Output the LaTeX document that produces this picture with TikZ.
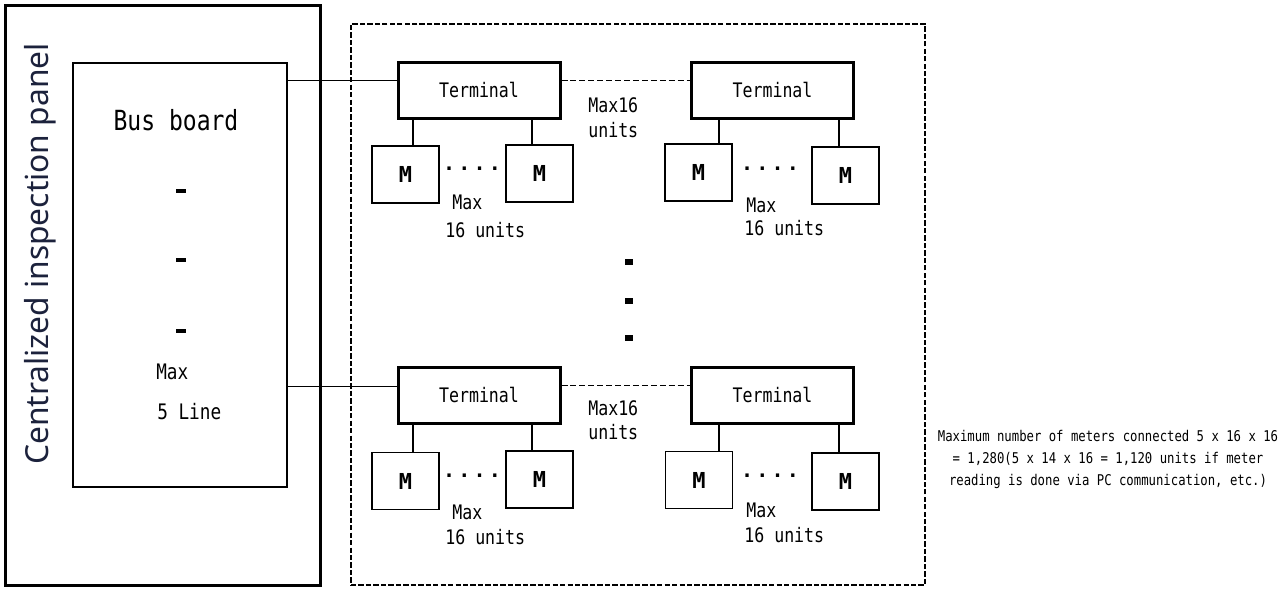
\documentclass[tikz,border=0pt]{standalone}
\usepackage{fontspec}
\usetikzlibrary{calc}
\newfontfamily\gothic[FakeStretch=0.83]{DejaVu Sans Mono}
\newfontfamily\gothicb{DejaVu Sans Mono}
\newfontfamily\meiryo{Noto Sans}
\definecolor{navy}{RGB}{28,34,60}
\newcommand\fourdots{.\hspace{2.4pt}.\hspace{2.4pt}.\hspace{2.4pt}.}
\begin{document}
\begin{tikzpicture}[x=0.75pt,y=-0.75pt,
  box/.style 2 args={draw, rectangle, inner sep=0pt, minimum width=#1*0.75pt, minimum height=#2*0.75pt},
  panelbox/.style={box={315}{580}, line width=2.25pt},
  busbox/.style={box={214}{424}, line width=1pt},
  termbox/.style={box={162}{56}, line width=2.25pt, font=\gothic\fontsize{15}{18}\selectfont},
  meter/.style={box={67}{57}, line width=1.2pt, font=\gothicb\bfseries\fontsize{16.5}{18}\selectfont},
  region/.style={box={574}{561}, line width=1pt, dash pattern=on 4pt off 1.6pt},
  lbl/.style={font=\gothic\fontsize{15}{18}\selectfont, inner sep=0pt, anchor=west},
  dotsrow/.style={font=\gothicb\bfseries\fontsize{15}{18}\selectfont, inner sep=0pt},
  bar/.style={fill=black, inner sep=0pt, minimum width=7.5pt, minimum height=3.4pt},
  vbar/.style={fill=black, inner sep=0pt, minimum width=6pt, minimum height=3.8pt},
  conn/.style={line width=1pt},
  dashconn/.style={line width=1pt, dash pattern=on 4.5pt off 2.2pt}]
\useasboundingbox (0,0) rectangle (1284,590);

% left panel
\node[panelbox] (panel) at (162.5,295) {};
\node[busbox] (bus) at (180,275) {};
\node[font=\meiryo\fontsize{23.8}{28}\selectfont, text=navy, rotate=90, anchor=base, inner sep=0pt] (ptitle) at (48,254) {Centralized inspection panel};
\node[font=\gothic\fontsize{20.8}{24}\selectfont, inner sep=0pt] (bustitle) at (176,120) {Bus board};
\node[bar] (b1) at (181,191) {};
\node[bar] (b2) at (181,260) {};
\node[bar] (b3) at (181,331) {};
\node[lbl, font=\gothic\fontsize{16}{18}\selectfont] (bmax) at (156,372) {Max};
\node[lbl, font=\gothic\fontsize{16}{18}\selectfont] (bline) at (157,412) {5 Line};

% dashed region
\node[region] (reg) at (638,304.5) {};

% terminals
\node[termbox] (T1) at (479,90) {Terminal};
\node[termbox] (T2) at (772.5,90) {Terminal};
\node[termbox] (T3) at (479,395) {Terminal};
\node[termbox] (T4) at (772.5,395) {Terminal};

% meters
\node[meter] (M1) at (405.5,174.5) {M};
\node[meter] (M2) at (539.5,173.5) {M};
\node[meter] (M3) at (698.5,172.5) {M};
\node[meter] (M4) at (845.5,175.5) {M};
\node[meter] (M5) at (405.5,481) {M};
\node[meter] (M6) at (539.5,479.5) {M};
\node[meter] (M7) at (699,480) {M};
\node[meter] (M8) at (845.5,481.5) {M};

% bus to terminals
\coordinate (t1in) at ($(T1.north west)!0.34!(T1.south west)$);
\coordinate (t3in) at ($(T3.north west)!0.36!(T3.south west)$);
\draw[conn] (t1in -| bus.east) -- (t1in);
\draw[conn] (t3in -| bus.east) -- (t3in);

% terminal to terminal (dashed)
\coordinate (t1out) at ($(T1.north east)!0.34!(T1.south east)$);
\coordinate (t3out) at ($(T3.north east)!0.34!(T3.south east)$);
\draw[dashconn] (t1out) -- (t1out -| T2.west);
\draw[dashconn] (t3out) -- (t3out -| T4.west);

% terminal to meters
\foreach \m/\t/\dx in {M1/T1/7.5, M2/T1/-7.5, M3/T2/20.5, M4/T2/-6.5, M5/T3/7.5, M6/T3/-7.5, M7/T4/20, M8/T4/-6.5} {
  \coordinate (tmp) at ($(\m.north)+(\dx,0)$);
  \draw[conn] (tmp) -- (tmp |- \t.south);
}

% dots between meters
\node[dotsrow] (d1) at (472,169) {\fourdots};
\node[dotsrow] (d2) at (770,169) {\fourdots};
\node[dotsrow] (d3) at (472,476) {\fourdots};
\node[dotsrow] (d4) at (770,476) {\fourdots};

% max labels
\node[lbl] (l1a) at (452,202) {Max};
\node[lbl] (l1b) at (445,230) {16 units};
\node[lbl] (l2a) at (746,205) {Max};
\node[lbl] (l2b) at (744,228) {16 units};
\node[lbl] (l3a) at (452,512) {Max};
\node[lbl] (l3b) at (445,537) {16 units};
\node[lbl] (l4a) at (746,510) {Max};
\node[lbl] (l4b) at (744,535) {16 units};
\node[lbl] (t12a) at (588,105) {Max16};
\node[lbl] (t12b) at (588,130) {units};
\node[lbl] (t34a) at (588,408) {Max16};
\node[lbl] (t34b) at (588,432) {units};

% vertical ellipsis
\node[vbar] (v1) at (629,262) {};
\node[vbar] (v2) at (629,301) {};
\node[vbar] (v3) at (629,338) {};

% note
\node[font=\gothic\fontsize{11.1}{16.5}\selectfont, align=center, inner sep=0pt] (note) at (1108,459)
  {Maximum number of meters connected 5 x 16 x 16\\= 1,280(5 x 14 x 16 = 1,120 units if meter\\reading is done via PC communication, etc.)};
\end{tikzpicture}
\end{document}
